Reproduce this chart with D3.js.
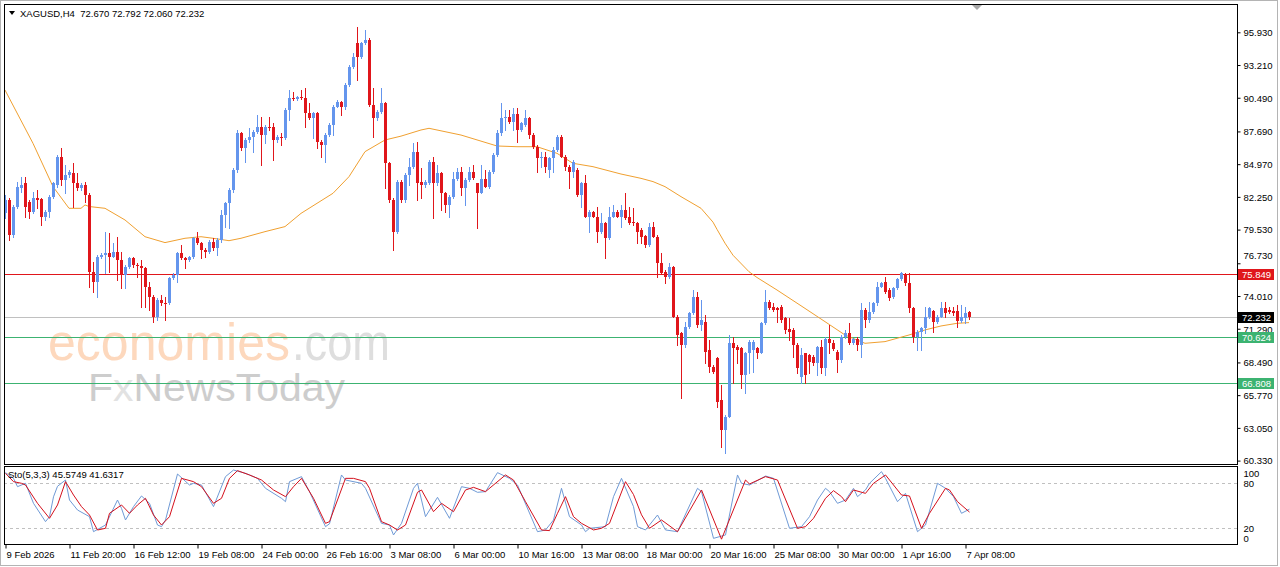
<!DOCTYPE html>
<html>
<head>
<meta charset="utf-8">
<script src="https://cdn.jsdelivr.net/npm/d3@7"></script>
<style>
  body { margin: 0; background: #fff; }
  text { font-family: "Liberation Sans", Arial, sans-serif; }
</style>
</head>
<body>
<div id="chart"></div>
<script>
// XAGUSD H4 candles (bar index 0 = 9 Feb 2026)
const opens = [80.88,81.99,79.08,81.44,82.96,83.38,81.85,81.02,82.13,82.05,80.61,81.02,82.27,83.24,85.59,83.65,84.07,84.21,83.38,82.96,
  83.24,82.41,76.03,75.20,77.22,77.42,77.56,77.28,77.70,77.01,75.76,76.45,77.14,76.59,76.51,76.31,74.79,73.96,72.30,73.68,
  73.46,73.41,75.48,75.76,77.56,77.14,77.01,77.22,78.81,78.39,77.84,77.70,78.53,77.98,78.67,80.75,81.71,82.82,84.49,87.53,
  86.29,86.98,87.25,87.67,88.09,87.39,88.09,88.03,86.98,87.25,87.12,89.47,90.44,90.36,90.58,90.44,89.19,88.78,89.19,86.84,
  86.56,87.39,88.23,89.75,90.16,89.75,91.55,93.07,95.01,93.90,95.01,95.29,89.89,88.78,89.33,90.03,85.04,81.99,79.36,83.52,
  81.99,84.07,84.76,86.01,83.52,83.24,83.38,85.18,83.38,84.21,82.55,81.58,82.27,83.71,84.35,82.96,83.65,84.35,83.38,82.60,
  83.71,83.10,84.35,85.73,87.53,88.78,88.92,88.50,89.11,87.81,88.23,88.78,87.39,86.42,85.46,85.59,84.49,85.46,86.15,87.25,
  85.59,84.76,84.35,84.49,82.41,83.38,80.61,81.02,80.61,79.36,80.05,78.81,80.61,81.02,80.61,81.16,80.61,80.19,80.05,79.50,
  78.99,78.25,79.78,78.94,76.73,76.03,75.62,76.45,72.30,70.91,69.94,71.47,72.57,73.96,71.61,71.88,69.53,68.14,68.84,65.37,
  62.88,63.99,70.08,69.80,69.66,67.45,69.25,69.53,69.66,69.30,71.74,73.54,73.13,72.99,73.13,72.16,71.24,71.19,69.94,67.31,
  69.25,69.11,68.97,68.47,69.75,68.06,70.47,70.08,69.39,68.70,70.58,70.97,70.08,70.41,69.94,72.85,72.02,72.71,73.41,74.79,
  75.20,74.51,73.90,74.65,75.40,75.76,75.07,72.99,70.63,71.05,71.33,72.24,72.77,71.88,72.30,72.99,72.85,72.79,72.77,71.96,
  72.16,72.67];
const highs = [82.41,82.13,81.58,83.52,83.93,83.93,81.99,82.68,82.82,82.13,81.16,82.41,83.52,85.73,86.29,84.90,84.49,85.04,84.21,83.38,
  83.52,82.55,76.86,77.42,77.56,79.36,79.22,78.39,78.94,77.70,76.59,77.28,77.22,76.73,77.01,76.45,75.20,74.10,73.82,74.10,
  73.96,75.62,75.90,77.70,78.25,77.22,77.34,78.94,79.36,78.53,77.98,78.67,78.81,78.81,81.16,81.85,82.96,84.62,87.81,87.67,
  87.12,87.95,87.81,89.06,88.92,88.23,88.92,88.36,87.39,87.53,89.61,91.13,90.99,90.64,91.13,91.27,90.03,89.33,89.33,86.98,
  87.53,88.36,89.89,90.30,90.24,91.69,93.21,94.18,96.40,95.15,96.12,95.43,91.27,89.47,91.27,90.16,85.18,82.13,83.65,83.65,
  84.21,85.46,86.70,86.84,84.62,83.65,85.32,85.59,84.90,84.35,82.68,82.41,84.35,84.62,84.76,83.79,84.76,84.90,83.44,84.90,
  84.49,84.49,85.87,87.81,90.03,89.47,89.47,89.61,89.61,88.50,89.47,88.92,87.53,86.56,86.01,86.01,85.59,86.42,87.39,87.39,
  85.73,84.90,85.32,84.62,83.52,84.07,81.16,81.10,81.44,80.88,80.19,81.44,81.58,81.16,81.58,82.55,81.44,81.30,80.19,79.64,
  79.08,80.05,80.19,79.08,77.56,76.17,76.73,76.51,72.44,71.05,71.88,72.71,74.51,74.37,73.68,72.44,70.36,68.28,68.97,66.62,
  64.13,70.77,70.63,69.94,69.80,69.39,70.36,70.36,69.80,71.88,74.51,73.68,73.41,73.13,73.27,72.30,72.16,71.33,70.08,69.66,
  69.30,69.15,69.11,69.85,70.36,70.63,71.61,70.36,69.53,70.77,71.19,71.74,70.50,70.63,73.41,72.99,73.54,73.54,75.20,75.20,
  75.62,74.65,74.79,75.48,76.03,75.90,75.90,73.13,71.19,71.47,73.13,73.13,72.85,72.44,73.54,73.54,73.13,73.13,73.27,73.27,
  73.13,72.79];
const lows = [80.47,78.67,78.94,81.30,82.68,80.61,80.47,80.88,81.30,79.91,80.33,80.61,82.13,83.10,83.24,82.55,83.93,81.44,82.82,82.82,
  81.85,74.79,74.37,73.96,77.14,75.90,76.03,77.22,75.34,74.65,74.65,76.31,76.45,75.62,73.13,73.13,72.85,71.88,72.02,73.27,
  72.02,73.35,75.40,75.20,77.06,76.31,76.95,77.14,78.34,77.14,77.28,77.62,77.84,77.42,78.53,79.78,79.64,82.68,84.35,86.15,
  85.18,86.84,86.01,87.59,84.90,86.70,87.81,85.32,86.84,86.56,87.03,88.64,90.30,90.30,90.36,88.09,88.70,87.12,86.29,85.59,
  85.18,87.31,87.39,89.69,89.06,89.53,91.47,92.93,91.96,93.76,94.96,89.80,87.25,88.64,89.19,82.96,81.85,77.84,79.22,81.85,
  81.85,83.24,84.62,81.99,82.13,83.10,83.32,80.47,83.24,81.16,81.02,80.61,82.13,83.65,82.41,81.58,83.60,83.71,79.64,82.55,
  83.05,82.96,84.26,85.65,87.39,87.81,88.42,87.81,86.84,87.73,88.14,87.12,86.29,84.35,84.76,84.35,83.93,84.35,86.10,85.54,
  84.49,82.96,83.93,82.33,81.44,80.55,79.36,80.55,78.53,79.28,77.14,78.73,80.55,80.55,79.78,80.39,79.99,79.91,78.39,78.39,
  78.11,78.17,78.89,75.62,75.84,75.07,75.48,72.24,69.94,65.51,69.80,71.33,72.52,71.47,71.19,68.42,67.73,67.65,64.82,61.49,
  60.94,63.93,66.76,68.42,66.34,65.93,67.59,67.73,68.84,69.25,71.69,72.91,72.79,71.88,71.88,70.91,70.36,68.97,67.59,66.76,
  66.76,67.59,68.28,67.45,67.59,67.45,69.25,69.53,67.73,68.56,70.50,70.03,70.03,69.53,68.97,71.47,71.88,72.63,73.27,74.73,
  74.23,73.68,73.82,74.57,75.34,74.93,72.71,70.22,69.53,69.53,70.91,72.16,71.05,71.74,72.24,72.30,72.57,72.44,71.47,71.88,
  71.74,72.06];
const closes = [81.99,79.08,81.44,83.10,83.24,81.44,81.02,82.13,81.99,80.61,81.02,82.27,83.38,85.59,83.65,84.07,84.35,83.38,82.96,83.24,
  82.41,76.03,75.20,77.28,77.42,77.56,77.28,77.70,77.01,75.76,76.45,77.14,76.59,76.51,76.31,74.79,73.96,72.30,73.68,73.41,
  73.35,75.48,75.76,77.56,77.14,77.01,77.22,78.81,78.39,77.84,77.70,78.53,77.98,78.67,80.75,81.71,82.82,84.49,87.53,86.29,
  86.98,87.25,87.67,88.09,87.39,88.09,88.03,86.98,87.25,87.12,89.47,90.44,90.36,90.58,90.44,89.19,88.78,89.19,86.84,86.56,
  87.39,88.23,89.75,90.16,89.75,91.55,93.07,93.90,93.90,95.01,95.29,89.89,88.78,89.33,90.03,85.04,81.99,79.36,83.52,81.99,
  84.07,84.76,86.01,83.38,83.24,83.52,85.18,83.38,84.21,82.55,81.58,82.27,83.71,84.35,82.96,83.65,84.35,83.79,82.60,83.71,
  83.10,84.35,85.73,87.53,88.78,88.92,88.50,89.11,87.81,88.36,88.78,87.39,86.42,85.46,85.59,84.76,85.46,86.15,87.25,85.59,
  84.76,84.35,85.18,82.41,83.38,80.61,81.02,80.61,79.36,80.05,78.81,80.61,81.02,80.61,81.16,80.47,80.05,80.05,79.36,78.94,
  78.25,79.78,78.94,76.73,75.90,75.62,76.45,72.30,70.77,69.94,71.47,72.57,73.96,71.61,72.02,69.39,68.14,67.73,65.23,62.88,
  63.99,70.08,69.66,69.53,67.45,69.25,70.22,70.22,69.30,71.74,73.54,72.99,72.85,72.85,72.02,71.19,71.05,69.94,68.00,69.11,
  67.45,68.56,68.47,69.80,68.06,70.47,70.08,69.58,68.70,70.63,70.97,70.08,70.41,69.94,72.85,72.02,72.71,73.41,74.79,75.07,
  74.37,73.82,74.65,75.40,75.90,75.07,72.99,70.63,71.05,71.33,72.24,72.99,71.88,72.30,72.99,72.63,72.71,72.63,71.96,72.24,
  72.63,72.23];

// orange moving average, sampled at bar indices
const maIdx = [0,7,12,16,19,20,21,25,30,35,40,45,49,52,56,59,65,70,74,82,86,90,95,99,104,106,114,123,128,133,138,142,147,154,159,162,165,169,174,177,178,180,182,186,188,193,199,204,210,215,220,226,230,234,238,241];
const maVal = [91.13,86.70,83.10,81.30,81.30,81.58,81.45,81.30,80.33,78.94,78.45,78.81,78.94,78.81,78.61,78.81,79.36,79.78,80.88,82.55,83.93,86.01,86.98,87.30,87.81,87.95,87.39,86.48,86.42,86.42,85.87,85.04,84.76,84.15,83.79,83.52,83.10,82.27,81.30,80.15,79.55,78.40,77.40,76.03,75.55,74.51,73.20,72.10,70.77,70.08,70.22,70.77,71.19,71.52,71.74,71.80];

// Stochastic (5,3,3): main (blue) and signal (red)
const kIdx = [0,2,3,5,7,10,11,12,13,15,16,18,21,22,25,28,29,30,32,34,36,38,39,40,43,46,47,49,52,55,57,60,63,65,69,70,71,74,76,80,81,84,85,89,90,94,96,97,99,102,103,105,108,111,114,116,118,120,123,126,128,133,135,137,139,141,144,145,146,150,152,154,157,158,160,163,165,168,173,174,177,180,183,184,186,190,192,196,199,201,203,205,206,208,210,212,213,215,216,219,220,223,225,228,230,233,235,237,239,241];
const kVal = [94.2,86.6,75.5,80.0,53.3,28.9,35.5,62.0,76.0,84.4,57.7,44.4,35.5,15.5,24.4,57.7,46.6,31.1,48.9,63.1,53.3,24.4,22.2,31.1,92.4,77.7,80.0,77.7,48.9,88.9,97.7,93.3,86.6,73.3,60.0,55.5,82.2,88.9,68.9,22.2,26.0,91.1,84.4,80.0,73.3,26.6,24.4,11.1,26.6,73.3,80.0,35.5,61.3,33.3,75.5,73.3,68.0,68.9,94.2,86.6,77.7,15.5,17.7,31.1,73.3,35.5,24.4,15.5,20.0,22.2,62.2,86.6,48.9,22.2,17.8,37.7,17.8,15.5,73.3,68.9,6.6,11.1,91.1,80.0,77.7,89.7,86.6,20.0,22.2,35.5,57.7,73.3,68.9,53.3,57.7,73.3,62.2,71.1,80.0,95.5,86.6,55.5,66.6,15.5,24.4,80.0,73.3,62.2,40.0,45.57];
const dIdx = [0,2,4,5,8,11,13,15,17,19,21,23,25,26,29,31,33,35,37,39,41,44,47,49,52,54,56,58,61,64,67,70,72,74,77,80,81,85,87,90,91,94,96,98,100,103,104,107,109,112,115,117,120,125,127,130,134,136,138,140,142,144,147,149,151,155,157,159,161,164,168,174,179,185,186,190,193,198,200,202,205,207,209,210,212,215,217,220,224,226,229,231,235,236,238,241];
const dVal = [93.3,82.2,80.0,77.7,53.3,33.3,51.1,82.2,64.4,48.9,37.7,17.7,20.0,40.0,51.1,40.0,51.1,60.0,37.7,24.4,35.5,86.6,82.2,75.5,53.3,60.0,86.6,96.9,91.1,84.4,71.1,62.2,75.5,86.6,60.0,26.6,28.9,86.6,86.6,82.2,73.3,28.9,24.4,17.7,24.4,68.0,71.1,42.2,53.3,42.2,71.1,74.6,68.9,91.1,84.4,55.5,17.8,16.9,40.0,62.2,35.5,26.6,17.8,20.0,26.6,82.2,65.0,38.0,20.0,31.1,15.5,71.1,5.5,84.4,79.1,88.9,84.4,20.0,22.2,33.3,60.0,70.2,62.2,55.5,71.1,66.6,80.0,91.1,64.4,63.1,20.0,40.0,73.3,71.1,55.5,41.63];

const priceTicks = [95.93,93.21,90.49,87.69,84.97,82.25,79.53,76.73,74.01,71.29,68.49,65.77,63.05,60.33];
const timeIdx = [0,16,32,48,64,80,96,112,128,144,160,176,192,208,224,240];
const timeLabels = ["9 Feb 2026","11 Feb 20:00","16 Feb 12:00","19 Feb 08:00","24 Feb 00:00","26 Feb 16:00","3 Mar 08:00","6 Mar 00:00",
  "10 Mar 16:00","13 Mar 08:00","18 Mar 00:00","20 Mar 16:00","25 Mar 08:00","30 Mar 00:00","1 Apr 16:00","7 Apr 08:00"];
const resistance = 75.849;
const supports = [70.624, 66.808];
const bidPrice = 72.232;
const stoLevels = [80, 20];

const W = 1280, H = 567;
const L = 4, R = 1237, T = 4, B = 464, ST = 466, SB = 544;
const BULL = "#6495ed", BEAR = "#e0161b", GREEN = "#3cb371";

const svg = d3.select("#chart").append("svg")
  .attr("width", W).attr("height", H)
  .style("display", "block");

svg.append("rect").attr("x", 0.5).attr("y", 0.5).attr("width", 1277).attr("height", 565)
  .attr("fill", "#fff").attr("stroke", "#b4b4b4");

const x = d3.scaleLinear().domain([0, 308]).range([5, 5 + 4 * 308]);
const y = d3.scaleLinear().domain([60.33, 95.93]).range([460.6, 32.3]);
const ys = d3.scaleLinear().domain([0, 100]).range([543.3, 468.3]);

svg.append("clipPath").attr("id", "mainClip")
  .append("rect").attr("x", L).attr("y", T).attr("width", R - L).attr("height", B - T);
svg.append("clipPath").attr("id", "stoClip")
  .append("rect").attr("x", L).attr("y", ST).attr("width", R - L).attr("height", SB - ST);

const main = svg.append("g").attr("clip-path", "url(#mainClip)");

// watermark
main.append("text").attr("x", 48).attr("y", 360)
  .attr("font-size", 52).attr("textLength", 242).attr("lengthAdjust", "spacingAndGlyphs")
  .attr("fill", "#fdd8bd").text("economies");
main.append("text").attr("x", 292).attr("y", 360)
  .attr("font-size", 52).attr("textLength", 98).attr("lengthAdjust", "spacingAndGlyphs")
  .attr("fill", "#dedede").text(".com");
main.append("text").attr("x", 88).attr("y", 401)
  .attr("font-size", 38).attr("textLength", 257).attr("lengthAdjust", "spacingAndGlyphs")
  .selectAll("tspan").data([["F", "#cdcdcd"], ["x", "#e2e2e2"], ["NewsToday", "#cdcdcd"]]).join("tspan")
  .attr("fill", d => d[1]).text(d => d[0]);

// horizontal levels
const hline = (v, c) => main.append("line").attr("x1", L).attr("x2", R)
  .attr("y1", Math.round(y(v)) + 0.5).attr("y2", Math.round(y(v)) + 0.5)
  .attr("stroke", c).attr("stroke-width", 1);
hline(bidPrice, "#c0c0c0");
hline(resistance, BEAR);
supports.forEach(v => hline(v, GREEN));

// moving average
main.append("path")
  .datum(maIdx.map((d, i) => [d, maVal[i]]))
  .attr("fill", "none").attr("stroke", "#f0a030").attr("stroke-width", 1)
  .attr("d", d3.line().x(d => x(d[0])).y(d => y(d[1])));

// candles
const bars = opens.map((o, i) => ({ i, o, h: highs[i], l: lows[i], c: closes[i] }));
const col = d => d.c >= d.o ? BULL : BEAR;
main.selectAll("line.wick").data(bars).join("line").attr("class", "wick")
  .attr("x1", d => x(d.i) + 0.5).attr("x2", d => x(d.i) + 0.5)
  .attr("y1", d => Math.round(y(d.h))).attr("y2", d => Math.round(y(d.l)) + 1)
  .attr("stroke", col);
main.selectAll("rect.body").data(bars).join("rect").attr("class", "body")
  .attr("x", d => x(d.i) - 1).attr("width", 3)
  .attr("y", d => Math.round(y(Math.max(d.o, d.c))))
  .attr("height", d => Math.max(1, Math.round(y(Math.min(d.o, d.c))) - Math.round(y(Math.max(d.o, d.c)))))
  .attr("fill", col);

// stochastic
const sto = svg.append("g").attr("clip-path", "url(#stoClip)");
sto.selectAll("line.lvl").data(stoLevels).join("line").attr("class", "lvl")
  .attr("x1", L).attr("x2", R)
  .attr("y1", d => Math.round(ys(d)) + 0.5).attr("y2", d => Math.round(ys(d)) + 0.5)
  .attr("stroke", "#c0c0c0").attr("stroke-dasharray", "3,3");
const sline = d3.line().x(d => x(d[0]) + 0.5).y(d => ys(d[1]));
sto.append("path").datum(kIdx.map((d, i) => [d, kVal[i]]))
  .attr("fill", "none").attr("stroke", "#6f9ad6").attr("d", sline);
sto.append("path").datum(dIdx.map((d, i) => [d, dVal[i]]))
  .attr("fill", "none").attr("stroke", "#d4101c").attr("d", sline);

// panel frames
svg.append("rect").attr("x", L + 0.5).attr("y", T + 0.5).attr("width", R - L).attr("height", B - T)
  .attr("fill", "none").attr("stroke", "#000");
svg.append("rect").attr("x", L + 0.5).attr("y", ST + 0.5).attr("width", R - L).attr("height", SB - ST)
  .attr("fill", "none").attr("stroke", "#000");

// shift marker
svg.append("path").attr("d", "M972,5 L982,5 L977,10 Z").attr("fill", "#a8a8a8");

// price axis
const pAxis = svg.append("g").attr("transform", `translate(${R + 0.5},0)`)
  .call(d3.axisRight(y).tickValues(priceTicks).tickFormat(d3.format(".3f")).tickSize(3).tickPadding(3));
pAxis.select(".domain").remove();
pAxis.selectAll("line").attr("stroke", "#000");
pAxis.selectAll("text").attr("font-size", 9.5).attr("fill", "#000")
  .attr("dy", (d) => d === 76.73 ? "-0.55em" : "0.35em");

// colored price labels
const tags = [[resistance, BEAR], [bidPrice, "#000"], [supports[0], GREEN], [supports[1], GREEN]];
const tg = svg.append("g").selectAll("g").data(tags).join("g")
  .attr("transform", d => `translate(${R + 1},${Math.round(y(d[0]))})`);
tg.append("rect").attr("x", 0).attr("y", -5).attr("width", 36).attr("height", 11).attr("fill", d => d[1]);
tg.append("text").attr("x", 4).attr("y", 4).attr("font-size", 9.5).attr("fill", "#fff")
  .text(d => d3.format(".3f")(d[0]));

// stochastic scale labels
const sAxis = svg.append("g").attr("transform", `translate(${R + 0.5},0)`);
sAxis.selectAll("text").data([[100, 5], [80, 0], [20, 0], [0, -5]]).join("text")
  .attr("x", 6).attr("y", d => ys(d[0]) + d[1]).attr("dy", "0.35em")
  .attr("font-size", 9.5).text(d => d[0]);

// time axis
const tAxis = svg.append("g").attr("transform", `translate(0,${SB + 0.5})`)
  .call(d3.axisBottom(x).tickValues(timeIdx).tickFormat((d, i) => timeLabels[i]).tickSize(4).tickPadding(3));
tAxis.select(".domain").remove();
tAxis.selectAll("line").attr("stroke", "#000").attr("transform", "translate(0.5,0)");
tAxis.selectAll("text").attr("font-size", 9.5).attr("fill", "#000")
  .attr("text-anchor", "start").attr("dx", 1);

// headers
svg.append("path").attr("d", "M9,11 L15,11 L12,15 Z").attr("fill", "#000");
svg.append("text").attr("x", 20).attr("y", 17).attr("font-size", 9.5)
  .text("XAGUSD,H4  72.670 72.792 72.060 72.232").attr("xml:space", "preserve");
svg.append("text").attr("x", 8).attr("y", 478).attr("font-size", 9.5)
  .text("Sto(5,3,3) 45.5749 41.6317");
</script>
</body>
</html>
